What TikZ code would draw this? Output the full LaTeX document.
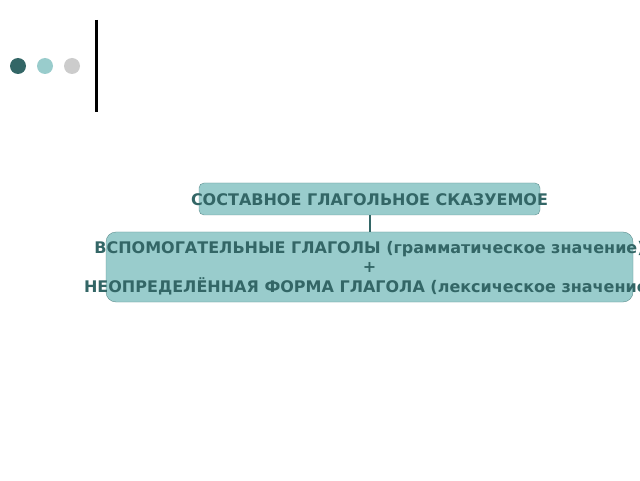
\documentclass[tikz,border=0pt]{standalone}
\usepackage{fontspec}
\setmainfont{DejaVu Sans}
\usetikzlibrary{positioning}
\definecolor{tealdark}{HTML}{336666}
\definecolor{teallight}{HTML}{99CCCC}
\definecolor{greydot}{HTML}{CCCCCC}
\definecolor{tealline}{HTML}{5E8F8F}
\tikzset{
  dot/.style={circle, minimum size=16pt, inner sep=0pt},
  topbox/.style={draw=tealline, fill=teallight, rounded corners=5pt, minimum width=341pt, minimum height=32pt, inner sep=0pt},
  bigbox/.style={draw=tealline, fill=teallight, rounded corners=10pt, minimum width=527pt, minimum height=70pt, inner sep=0pt},
  boxtext/.style={text=tealdark, font=\bfseries\fontsize{16}{19.5}\selectfont, align=center}
}
\begin{document}
\begin{tikzpicture}[x=1pt, y=1pt]
  \useasboundingbox (0,0) rectangle (640,480);
  % Dots and bar top left
  \node[dot, fill=tealdark] (dotA) at (18,414) {};
  \node[dot, fill=teallight] (dotB) at (45,414) {};
  \node[dot, fill=greydot] (dotC) at (72,414) {};
  \draw[line width=3pt] (96,460) -- (96,368);

  % Boxes
  \node[topbox] (predicate) at (369.5,281) {};
  \node[bigbox] (parts) at (369.5,213) {};
  \draw[tealdark, line width=2pt] (predicate) -- (parts);

  % Texts
  \node[boxtext] (predtext) at (369.5,280) {СОСТАВНОЕ ГЛАГОЛЬНОЕ СКАЗУЕМОЕ};
  \node[boxtext] (partstext) at (369.5,212) {ВСПОМОГАТЕЛЬНЫЕ ГЛАГОЛЫ (грамматическое значение)\\+\\НЕОПРЕДЕЛЁННАЯ ФОРМА ГЛАГОЛА (лексическое значение)};
\end{tikzpicture}
\end{document}
